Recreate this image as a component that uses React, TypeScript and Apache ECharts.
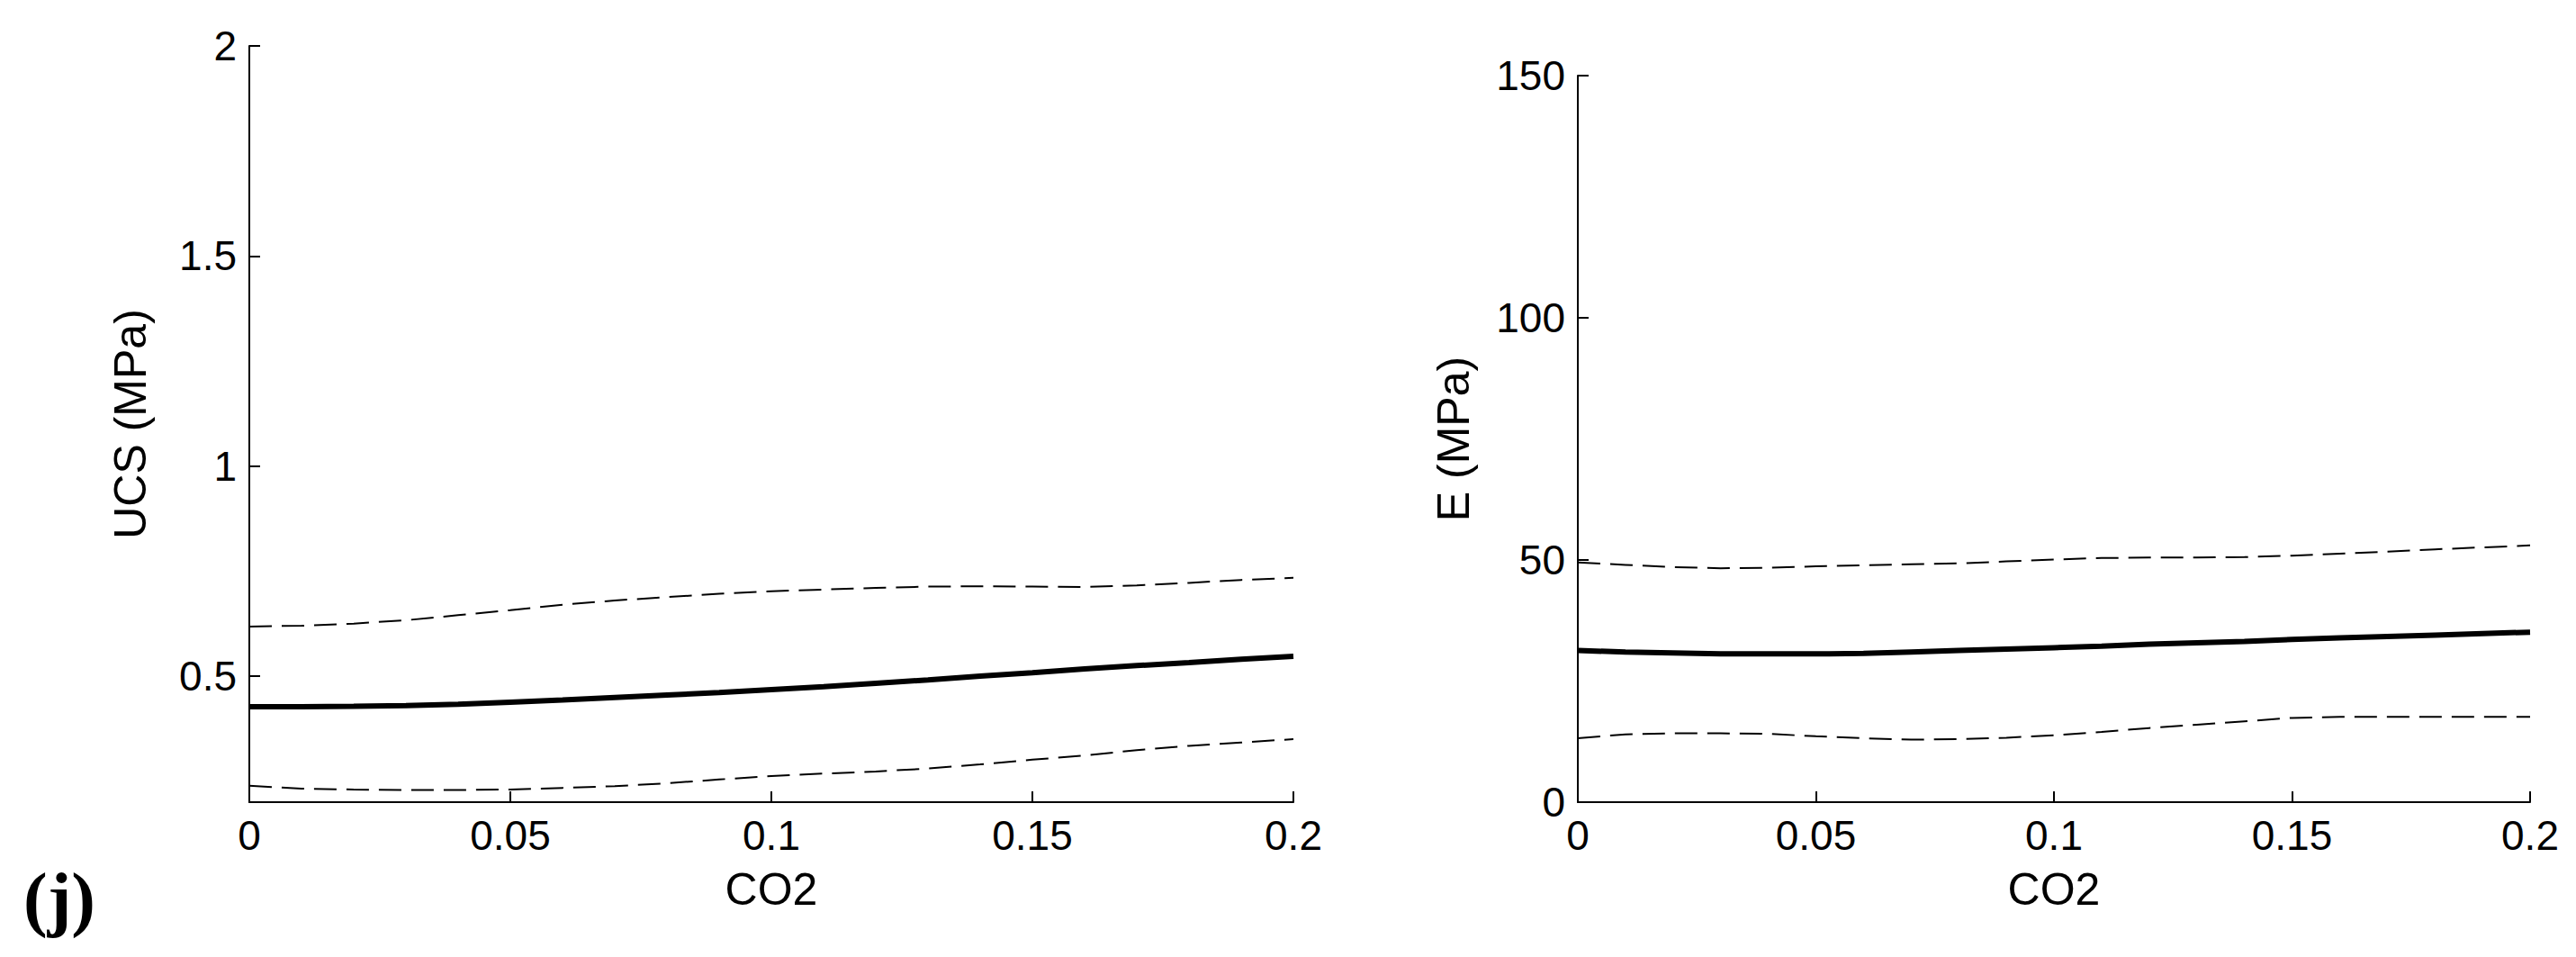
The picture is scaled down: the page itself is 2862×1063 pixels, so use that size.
import React, { useEffect, useRef } from "react";
import * as echarts from "echarts";

// CO2 fraction sampled along x
const co2 = [0, 0.01, 0.02, 0.03, 0.04, 0.05, 0.06, 0.07, 0.08, 0.09, 0.1, 0.11, 0.12, 0.13, 0.14, 0.15, 0.16, 0.17, 0.18, 0.19, 0.2];

// UCS (MPa)
const ucsMean = [0.427, 0.427, 0.428, 0.43, 0.433, 0.438, 0.443, 0.449, 0.455, 0.461, 0.468, 0.475, 0.483, 0.491, 0.5, 0.508, 0.517, 0.525, 0.532, 0.54, 0.547];
const ucsUpper = [0.618, 0.62, 0.625, 0.633, 0.645, 0.657, 0.67, 0.68, 0.688, 0.696, 0.702, 0.706, 0.71, 0.713, 0.714, 0.713, 0.712, 0.716, 0.722, 0.729, 0.734];
const ucsLower = [0.239, 0.232, 0.23, 0.229, 0.229, 0.23, 0.234, 0.238, 0.245, 0.254, 0.262, 0.268, 0.273, 0.28, 0.29, 0.301, 0.311, 0.324, 0.334, 0.342, 0.35];

// E (MPa)
const eMean = [31.3, 31.0, 30.8, 30.6, 30.6, 30.6, 30.7, 31.0, 31.3, 31.6, 31.9, 32.2, 32.6, 32.9, 33.2, 33.6, 33.9, 34.2, 34.5, 34.8, 35.1];
const eUpper = [49.5, 49.0, 48.5, 48.3, 48.4, 48.7, 48.9, 49.1, 49.3, 49.7, 50.1, 50.4, 50.5, 50.5, 50.6, 50.9, 51.3, 51.7, 52.2, 52.6, 53.0];
const eLower = [13.2, 14.0, 14.2, 14.2, 14.1, 13.6, 13.2, 12.9, 13.0, 13.3, 13.8, 14.5, 15.3, 16.0, 16.7, 17.4, 17.6, 17.6, 17.6, 17.6, 17.6];

// tick values
const xTicks = [0, 0.05, 0.1, 0.15, 0.2];
const ucsTicks = [0.5, 1, 1.5, 2];
const eTicks = [0, 50, 100, 150];

const FONT = "Liberation Sans, Arial, Helvetica, sans-serif";

function pairs(ys: number[]) {
  return co2.map((x, i) => [x, ys[i]]);
}

export default function App() {
  const ref = useRef<HTMLDivElement>(null);

  useEffect(() => {
    if (!ref.current) return;
    const chart = echarts.init(ref.current, undefined, { renderer: "svg" });

    const axisCommon = {
      axisLine: { show: true, onZero: false, lineStyle: { color: "#000", width: 2 } },
      axisTick: { show: true, inside: true, length: 12, lineStyle: { color: "#000", width: 2 } },
      splitLine: { show: false },
    };
    const labelCommon = { color: "#000", fontSize: 46, fontFamily: FONT };
    const nameStyle = { color: "#000", fontSize: 50, fontFamily: FONT };

    const xAxis = (gridIndex: number) => ({
      type: "value",
      gridIndex,
      min: 0,
      max: 0.2,
      interval: 0.05,
      name: "CO2",
      nameLocation: "middle",
      nameGap: 72,
      nameTextStyle: nameStyle,
      ...axisCommon,
      axisTick: { ...axisCommon.axisTick, customValues: xTicks },
      axisLabel: { ...labelCommon, margin: 14, customValues: xTicks },
    });

    const solid = { color: "#000", width: 6, type: "solid" };
    const dashed = { color: "#000", width: 2, type: [25, 11] };

    const line = (data: number[], idx: number, style: any) => ({
      type: "line",
      xAxisIndex: idx,
      yAxisIndex: idx,
      data: pairs(data),
      showSymbol: false,
      symbol: "none",
      smooth: false,
      lineStyle: style,
      silent: true,
    });

    chart.setOption({
      animation: false,
      backgroundColor: "#fff",
      grid: [
        { left: 277, top: 51, width: 1160, height: 840, containLabel: false },
        { left: 1753, top: 84, width: 1058, height: 807, containLabel: false },
      ],
      xAxis: [xAxis(0), xAxis(1)],
      yAxis: [
        {
          type: "value",
          gridIndex: 0,
          min: 0.2,
          max: 2,
          name: "UCS (MPa)",
          nameLocation: "middle",
          nameGap: 107,
          nameTextStyle: nameStyle,
          ...axisCommon,
          axisTick: { ...axisCommon.axisTick, customValues: ucsTicks },
          axisLabel: { ...labelCommon, margin: 14, customValues: ucsTicks },
        },
        {
          type: "value",
          gridIndex: 1,
          min: 0,
          max: 150,
          interval: 50,
          name: "E (MPa)",
          nameLocation: "middle",
          nameGap: 113,
          nameTextStyle: nameStyle,
          ...axisCommon,
          axisTick: { ...axisCommon.axisTick, customValues: eTicks },
          axisLabel: { ...labelCommon, margin: 14, customValues: eTicks },
        },
      ],
      series: [
        line(ucsUpper, 0, dashed),
        line(ucsLower, 0, dashed),
        line(ucsMean, 0, solid),
        line(eUpper, 1, dashed),
        line(eLower, 1, dashed),
        line(eMean, 1, solid),
      ],
      graphic: [
        {
          type: "text",
          left: 26,
          top: 958,
          style: {
            text: "(j)",
            fill: "#000",
            font: "bold 80px 'Liberation Serif', 'Times New Roman', serif",
          },
        },
      ],
    });

    return () => chart.dispose();
  }, []);

  return (
    <div
      ref={ref}
      style={{ position: "absolute", left: 0, top: 0, width: 2862, height: 1063, background: "#fff" }}
    />
  );
}
